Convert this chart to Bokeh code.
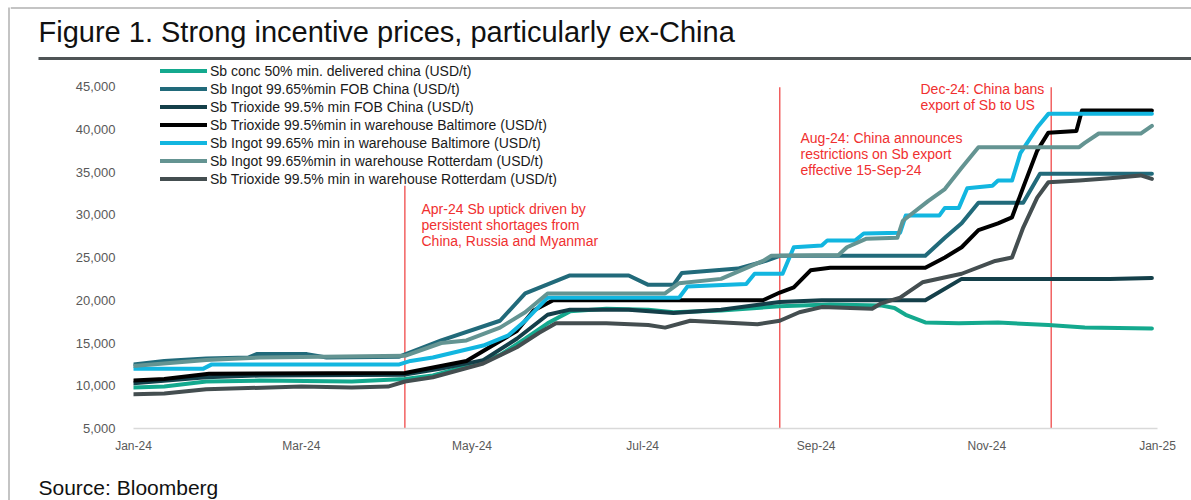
import pandas as pd
from bokeh.plotting import figure
from bokeh.layouts import row, column
from bokeh.models import Legend, LegendItem, Label, FixedTicker, NumeralTickFormatter, Range1d
from bokeh.core.properties import value
from bokeh.embed import file_html
from bokeh.resources import INLINE

# ---------------- data ----------------
series_names = [
    "Sb conc 50% min. delivered china (USD/t)",
    "Sb Ingot 99.65%min FOB China (USD/t)",
    "Sb Trioxide 99.5% min FOB China (USD/t)",
    "Sb Trioxide 99.5%min in warehouse Baltimore (USD/t)",
    "Sb Ingot 99.65% min in warehouse Baltimore (USD/t)",
    "Sb Ingot 99.65%min in warehouse Rotterdam (USD/t)",
    "Sb Trioxide 99.5% min in warehouse Rotterdam (USD/t)",
]
series_colors = ["#14A98E", "#216A7A", "#143F49", "#000000", "#12B6E0", "#649492", "#444E50"]

conc_dates = ["2024-01-01", "2024-01-12", "2024-01-27", "2024-02-15", "2024-03-19", "2024-04-07",
              "2024-04-17", "2024-04-29", "2024-05-11", "2024-05-20", "2024-05-28", "2024-06-05",
              "2024-06-18", "2024-07-03", "2024-07-12", "2024-07-29", "2024-08-19", "2024-09-06",
              "2024-09-24", "2024-09-29", "2024-10-03", "2024-10-10", "2024-10-22", "2024-11-05",
              "2024-11-23", "2024-12-06", "2024-12-30"]
conc_values = [9800, 9900, 10500, 10600, 10500, 10800,
               11200, 12300, 13600, 15500, 17300, 18700,
               19000, 18900, 18600, 18800, 19300, 19500,
               19400, 19100, 18300, 17400, 17300, 17400,
               17100, 16800, 16700]

ingot_fob_dates = ["2024-01-01", "2024-01-12", "2024-01-27", "2024-02-11", "2024-02-14", "2024-03-03",
                   "2024-03-10", "2024-04-05", "2024-04-20", "2024-05-11", "2024-05-20", "2024-06-05",
                   "2024-06-26", "2024-07-03", "2024-07-12", "2024-07-15", "2024-08-04", "2024-08-14",
                   "2024-08-19", "2024-10-10", "2024-10-17", "2024-10-23", "2024-10-29", "2024-11-14",
                   "2024-11-20", "2024-12-30"]
ingot_fob_values = [12500, 12900, 13200, 13300, 13700, 13700,
                    13300, 13400, 15300, 17600, 20800, 22900,
                    22900, 21800, 21800, 23200, 23700, 24600,
                    25200, 25200, 27300, 29000, 31400, 31400,
                    34800, 34800]

trioxide_fob_dates = ["2024-01-01", "2024-01-27", "2024-02-15", "2024-04-07", "2024-04-20", "2024-05-05",
                      "2024-05-17", "2024-05-28", "2024-06-05", "2024-06-26", "2024-07-12", "2024-07-29",
                      "2024-08-19", "2024-09-03", "2024-10-10", "2024-10-23", "2024-12-15", "2024-12-30"]
trioxide_fob_values = [10300, 11000, 11200, 11300, 12000, 13000,
                       15500, 18300, 18900, 18900, 18500, 18900,
                       19800, 20000, 20000, 22500, 22500, 22600]

trioxide_balt_dates = ["2024-01-01", "2024-01-12", "2024-01-28", "2024-04-07", "2024-04-29", "2024-05-17",
                       "2024-05-23", "2024-05-30", "2024-08-13", "2024-08-19", "2024-08-24", "2024-08-30",
                       "2024-09-06", "2024-10-10", "2024-10-17", "2024-10-23", "2024-10-29", "2024-11-05",
                       "2024-11-10", "2024-11-14", "2024-11-19", "2024-11-23", "2024-12-03", "2024-12-05",
                       "2024-12-30"]
trioxide_balt_values = [10600, 10800, 11400, 11500, 12900, 16400,
                        18800, 20000, 20000, 20900, 21500, 23500,
                        23800, 23800, 25000, 26200, 28200, 29000,
                        29700, 33200, 37500, 39600, 39800, 42200,
                        42200]

ingot_balt_dates = ["2024-01-01", "2024-01-26", "2024-01-29", "2024-04-05", "2024-04-09", "2024-04-17",
                    "2024-05-05", "2024-05-14", "2024-05-20", "2024-05-28", "2024-07-14", "2024-07-17",
                    "2024-08-07", "2024-08-10", "2024-08-20", "2024-08-24", "2024-09-03", "2024-09-05",
                    "2024-09-15", "2024-09-18", "2024-10-01", "2024-10-03", "2024-10-15", "2024-10-17",
                    "2024-10-22", "2024-10-25", "2024-11-03", "2024-11-05", "2024-11-10", "2024-11-13",
                    "2024-11-19", "2024-11-23", "2024-12-30"]
ingot_balt_values = [12000, 12000, 12500, 12500, 12900, 13300,
                     14700, 15900, 17600, 20300, 20300, 21600,
                     21900, 23100, 23100, 26200, 26400, 27000,
                     27000, 27800, 27900, 29900, 29900, 30800,
                     30800, 33100, 33400, 34000, 34000, 37200,
                     40200, 41800, 41800]

ingot_rott_dates = ["2024-01-01", "2024-01-27", "2024-02-15", "2024-04-07", "2024-04-20", "2024-04-29",
                    "2024-05-11", "2024-05-20", "2024-05-28", "2024-07-09", "2024-07-14", "2024-07-29",
                    "2024-08-13", "2024-08-16", "2024-09-09", "2024-09-12", "2024-09-19", "2024-09-30",
                    "2024-10-02", "2024-10-11", "2024-10-17", "2024-10-23", "2024-10-29", "2024-12-04",
                    "2024-12-06", "2024-12-11", "2024-12-26", "2024-12-30"]
ingot_rott_values = [12300, 13000, 13300, 13500, 15000, 15300,
                     16800, 18600, 20800, 20800, 22000, 22500,
                     24600, 25200, 25300, 26200, 27200, 27300,
                     29300, 31600, 33000, 35500, 37900, 37900,
                     38400, 39500, 39500, 40400]

trioxide_rott_dates = ["2024-01-01", "2024-01-12", "2024-01-27", "2024-03-01", "2024-03-19", "2024-04-01",
                       "2024-04-07", "2024-04-17", "2024-05-05", "2024-05-17", "2024-05-25", "2024-05-31",
                       "2024-06-18", "2024-07-03", "2024-07-09", "2024-07-18", "2024-08-11", "2024-08-19",
                       "2024-08-26", "2024-09-03", "2024-09-21", "2024-09-24", "2024-10-01", "2024-10-09",
                       "2024-10-23", "2024-11-04", "2024-11-10", "2024-11-14", "2024-11-19", "2024-11-23",
                       "2024-12-04", "2024-12-16", "2024-12-26", "2024-12-30"]
trioxide_rott_values = [9000, 9100, 9600, 9900, 9800, 9900,
                        10500, 11000, 12600, 14500, 16200, 17300,
                        17300, 17100, 16800, 17600, 17200, 17600,
                        18600, 19200, 19000, 19600, 20300, 22100,
                        23100, 24600, 25000, 28500, 32000, 33800,
                        34000, 34300, 34600, 34200]

all_dates = [conc_dates, ingot_fob_dates, trioxide_fob_dates, trioxide_balt_dates,
             ingot_balt_dates, ingot_rott_dates, trioxide_rott_dates]
all_values = [conc_values, ingot_fob_values, trioxide_fob_values, trioxide_balt_values,
              ingot_balt_values, ingot_rott_values, trioxide_rott_values]

y_ticks = [5000, 10000, 15000, 20000, 25000, 30000, 35000, 40000, 45000]
tick_dates = ["2024-01-01", "2024-03-01", "2024-05-01", "2024-07-01", "2024-09-01", "2024-11-01", "2025-01-01"]
tick_labels = ["Jan-24", "Mar-24", "May-24", "Jul-24", "Sep-24", "Nov-24", "Jan-25"]

event_dates = ["2024-04-07", "2024-08-19", "2024-11-24"]
event_tops = [33400, 44900, 44900]
event_texts = [
    ["Apr-24 Sb uptick driven by", "persistent shortages from", "China, Russia and Myanmar"],
    ["Aug-24: China announces", "restrictions on Sb export", "effective 15-Sep-24"],
    ["Dec-24: China bans", "export of Sb to US"],
]

title_text = "Figure 1. Strong incentive prices, particularly ex-China"
source_text = "Source: Bloomberg"

# ---------------- layout constants ----------------
FONT = "Liberation Sans"
PAGE_W, PAGE_H = 1191, 500
STRIP_W = 10                 # left strip holding the frame border
COL_W = PAGE_W - STRIP_W
TOP_H = 61                   # title band
BOT_H = 30                   # source band
MAIN_H = PAGE_H - TOP_H - BOT_H
FRAME_LEFT = 133 - STRIP_W
FRAME_W = 1024
FRAME_H = 367                # frame: page y 61 .. 428
PX_PER_UNIT = 342 / 40000.0
BORDER_COLOR = "#c4c4c4"


def blank_fig(w, h, xr, yr):
    f = figure(width=w, height=h, x_range=Range1d(*xr), y_range=Range1d(*yr),
               x_axis_location=None, y_axis_location=None, toolbar_location=None,
               output_backend="svg", min_border=0, title=None)
    f.grid.visible = False
    f.outline_line_color = None
    f.background_fill_color = "white"
    f.border_fill_color = "white"
    return f


# left strip: vertical frame border
strip = blank_fig(STRIP_W, PAGE_H, (0, STRIP_W), (PAGE_H, 0))
strip.segment(x0=[8.5], y0=[7], x1=[8.5], y1=[PAGE_H], line_color=BORDER_COLOR, line_width=2)

# title band
top = blank_fig(COL_W, TOP_H, (STRIP_W, PAGE_W), (TOP_H, 0))
top.segment(x0=[STRIP_W], y0=[7.5], x1=[PAGE_W], y1=[7.5], line_color=BORDER_COLOR, line_width=2)
top.segment(x0=[38], y0=[58], x1=[PAGE_W], y1=[58], line_color="#4f5456", line_width=3)
top.text(x=[38], y=[31], text=[title_text], text_font=value(FONT), text_font_size=value("29px"),
         text_color="#111111", text_baseline="middle", text_align="left")

# source band
bot = blank_fig(COL_W, BOT_H, (STRIP_W, PAGE_W), (PAGE_H, PAGE_H - BOT_H))
bot.text(x=[38], y=[487], text=[source_text], text_font=value(FONT), text_font_size=value("21px"),
         text_color="#111111", text_baseline="middle", text_align="left")

# main chart
y_end = y_ticks[0] + FRAME_H / PX_PER_UNIT
p = figure(width=COL_W, height=MAIN_H, x_axis_type="datetime", output_backend="svg",
           toolbar_location=None, title=None,
           x_range=Range1d(pd.Timestamp(tick_dates[0]), pd.Timestamp(tick_dates[-1])),
           y_range=Range1d(y_ticks[0], y_end),
           min_border_left=FRAME_LEFT, min_border_right=COL_W - FRAME_LEFT - FRAME_W,
           min_border_top=0, min_border_bottom=MAIN_H - FRAME_H)
p.background_fill_color = "white"
p.border_fill_color = "white"
p.outline_line_color = None
p.grid.visible = False

tick_ms = [int(pd.Timestamp(d).value // 10**6) for d in tick_dates]
p.xaxis.ticker = FixedTicker(ticks=tick_ms)
p.xaxis.major_label_overrides = {t: l for t, l in zip(tick_ms, tick_labels)}
p.xaxis.axis_line_color = "#d9d9d9"
p.xaxis.axis_line_width = 1.5
p.xaxis.major_tick_line_color = None
p.xaxis.minor_tick_line_color = None
p.xaxis.major_tick_out = 0
p.xaxis.major_label_standoff = 10
p.xaxis.major_label_text_font = FONT
p.xaxis.major_label_text_font_size = "12px"
p.xaxis.major_label_text_color = "#595959"

p.yaxis.ticker = FixedTicker(ticks=y_ticks)
p.yaxis.formatter = NumeralTickFormatter(format="0,0")
p.yaxis.axis_line_color = None
p.yaxis.major_tick_line_color = None
p.yaxis.minor_tick_line_color = None
p.yaxis.major_tick_out = 0
p.yaxis.major_label_standoff = 18
p.yaxis.major_label_text_font = FONT
p.yaxis.major_label_text_font_size = "13px"
p.yaxis.major_label_text_color = "#595959"

ev_x = [pd.Timestamp(d) for d in event_dates]
p.segment(x0=ev_x, y0=[y_ticks[0]] * len(ev_x), x1=ev_x, y1=event_tops,
          line_color="#EE3A3A", line_width=1.2)

items = []
for name, color, dts, vals in zip(series_names, series_colors, all_dates, all_values):
    r = p.line(x=[pd.Timestamp(d) for d in dts], y=vals, line_color=color,
               line_width=4, line_join="round", line_cap="round")
    items.append(LegendItem(label=name, renderers=[r]))

legend = Legend(items=items, location=(27, 241), orientation="vertical",
                glyph_width=47, glyph_height=17, label_height=17, spacing=1,
                padding=0, margin=0, label_standoff=3,
                label_text_font=FONT, label_text_font_size="14px",
                label_text_color="#1a1a1a",
                background_fill_alpha=0, border_line_color=None)
p.add_layout(legend)

# annotation texts (screen units relative to the frame's bottom-left)
ann_pos = [(288, 220), (667, 291), (787, 340)]
for (ax, ay), lines in zip(ann_pos, event_texts):
    for i, t in enumerate(lines):
        p.add_layout(Label(x=ax, y=ay - 16 * i, x_units="screen", y_units="screen",
                           text=t, text_font=FONT, text_font_size="14px",
                           text_color="#F03030", text_baseline="middle", text_align="left"))

# wrap each band in its own row so plot frames are not aligned across the column
layout = row(strip, column(row(top), row(p), row(bot), spacing=0), spacing=0)
open("out.html", "w").write(file_html(layout, INLINE))
